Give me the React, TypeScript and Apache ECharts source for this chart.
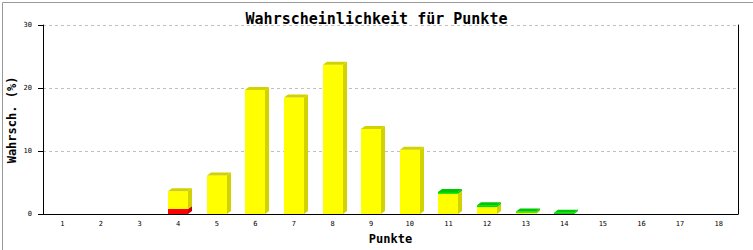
import React, { useEffect, useRef } from "react";
import * as echarts from "echarts";

const categories = ["1","2","3","4","5","6","7","8","9","10","11","12","13","14","15","16","17","18"];
const redValues = [0, 0, 0, 0.8, 0, 0, 0, 0, 0, 0, 0, 0, 0, 0, 0, 0, 0, 0];
const yellowValues = [0, 0, 0, 2.8, 6.1, 19.7, 18.5, 23.7, 13.5, 10.2, 3.2, 1.1, 0.2, 0, 0, 0, 0, 0];
const greenValues = [0, 0, 0, 0, 0, 0, 0, 0, 0, 0, 0.3, 0.3, 0.2, 0.2, 0, 0, 0, 0];
const yTicks = { min: 0, max: 30, interval: 10 };

const FRONT = ["#ff0000", "#ffff00", "#00dd00"];
const DARK = ["#cc0000", "#d2d200", "#00c800"];

export default function App() {
  const ref = useRef<HTMLDivElement>(null);
  useEffect(() => {
    if (!ref.current) return;
    const chart = echarts.init(ref.current, null, { renderer: "svg" });
    const data = categories.map((_, i) => [i, redValues[i], yellowValues[i], greenValues[i]]);
    const mono = "'DejaVu Sans Mono', 'Liberation Mono', monospace";
    chart.setOption({
      animation: false,
      backgroundColor: "#ffffff",
      title: {
        text: "Wahrscheinlichkeit für Punkte",
        left: "center",
        top: 5,
        textStyle: { fontFamily: mono, fontWeight: "bold", fontSize: 15, color: "#000", lineHeight: 17 },
      },
      graphic: [
        {
          type: "rect",
          left: 0,
          top: 0,
          shape: { x: 0.5, y: 0.5, width: 752, height: 249 },
          style: { fill: "none", stroke: "#999999", lineWidth: 1 },
          silent: true,
        },
        {
          type: "text",
          x: 12,
          y: 120,
          rotation: Math.PI / 2,
          style: {
            text: "Wahrsch. (%)",
            fontFamily: mono,
            fontWeight: "bold",
            fontSize: 12,
            fill: "#000",
            align: "center",
            verticalAlign: "middle",
          },
          silent: true,
        },
      ],
      grid: { left: 43, right: 15, top: 25, bottom: 36, containLabel: false, outerBoundsMode: "none" },
      xAxis: {
        type: "category",
        data: categories,
        boundaryGap: true,
        axisLine: { show: true, lineStyle: { color: "#000", width: 1 } },
        axisTick: { show: false },
        axisLabel: { fontFamily: mono, fontSize: 7, color: "#000", margin: 6 },
        splitLine: { show: false },
        name: "Punkte",
        nameLocation: "middle",
        nameGap: 19,
        nameTextStyle: { fontFamily: mono, fontWeight: "bold", fontSize: 12, color: "#000" },
      },
      yAxis: [
        {
          type: "value",
          min: yTicks.min,
          max: yTicks.max,
          interval: yTicks.interval,
          axisLine: { show: true, lineStyle: { color: "#000", width: 1 } },
          axisTick: { show: true, length: 5, inside: false, lineStyle: { color: "#000" } },
          axisLabel: { fontFamily: mono, fontSize: 7, color: "#000", margin: 11 },
          splitLine: { show: true, lineStyle: { color: "#c0c0c0", type: [3, 3], width: 1 } },
        },
        {
          type: "value",
          position: "right",
          min: yTicks.min,
          max: yTicks.max,
          interval: yTicks.interval,
          axisLine: { show: true, lineStyle: { color: "#000", width: 1 } },
          axisTick: { show: false },
          axisLabel: { show: false },
          splitLine: { show: false },
        },
      ],
      series: [
        {
          type: "custom",
          xAxisIndex: 0,
          yAxisIndex: 0,
          encode: { x: 0, y: [1, 2, 3] },
          data,
          renderItem: (params: any, api: any) => {
            const idx = api.value(0);
            const vals = [api.value(1), api.value(2), api.value(3)];
            const w = 20, dx = 4, dy = 3;
            const cx = api.coord([idx, 0])[0];
            const x0 = Math.round(cx - w / 2);
            const x1 = x0 + w;
            let last = -1;
            vals.forEach((v: number, k: number) => { if (v > 0) last = k; });
            const children: any[] = [];
            let cum = 0;
            vals.forEach((v: number, k: number) => {
              if (!(v > 0)) return;
              const yb = api.coord([idx, cum])[1];
              const yt = api.coord([idx, cum + v])[1];
              cum += v;
              children.push({
                type: "rect",
                shape: { x: x0, y: yt, width: w, height: yb - yt },
                style: { fill: FRONT[k] },
              });
              children.push({
                type: "polygon",
                shape: { points: [[x1, yb], [x1, yt], [x1 + dx, yt - dy], [x1 + dx, yb - dy]] },
                style: { fill: DARK[k] },
              });
              if (k === last) {
                children.push({
                  type: "polygon",
                  shape: { points: [[x0, yt], [x0 + dx, yt - dy], [x1 + dx, yt - dy], [x1, yt]] },
                  style: { fill: DARK[k] },
                });
              }
            });
            return { type: "group", children };
          },
        },
      ],
    });
    return () => chart.dispose();
  }, []);
  return <div ref={ref} style={{ position: "fixed", left: 0, top: 0, width: 753, height: 250 }} />;
}
